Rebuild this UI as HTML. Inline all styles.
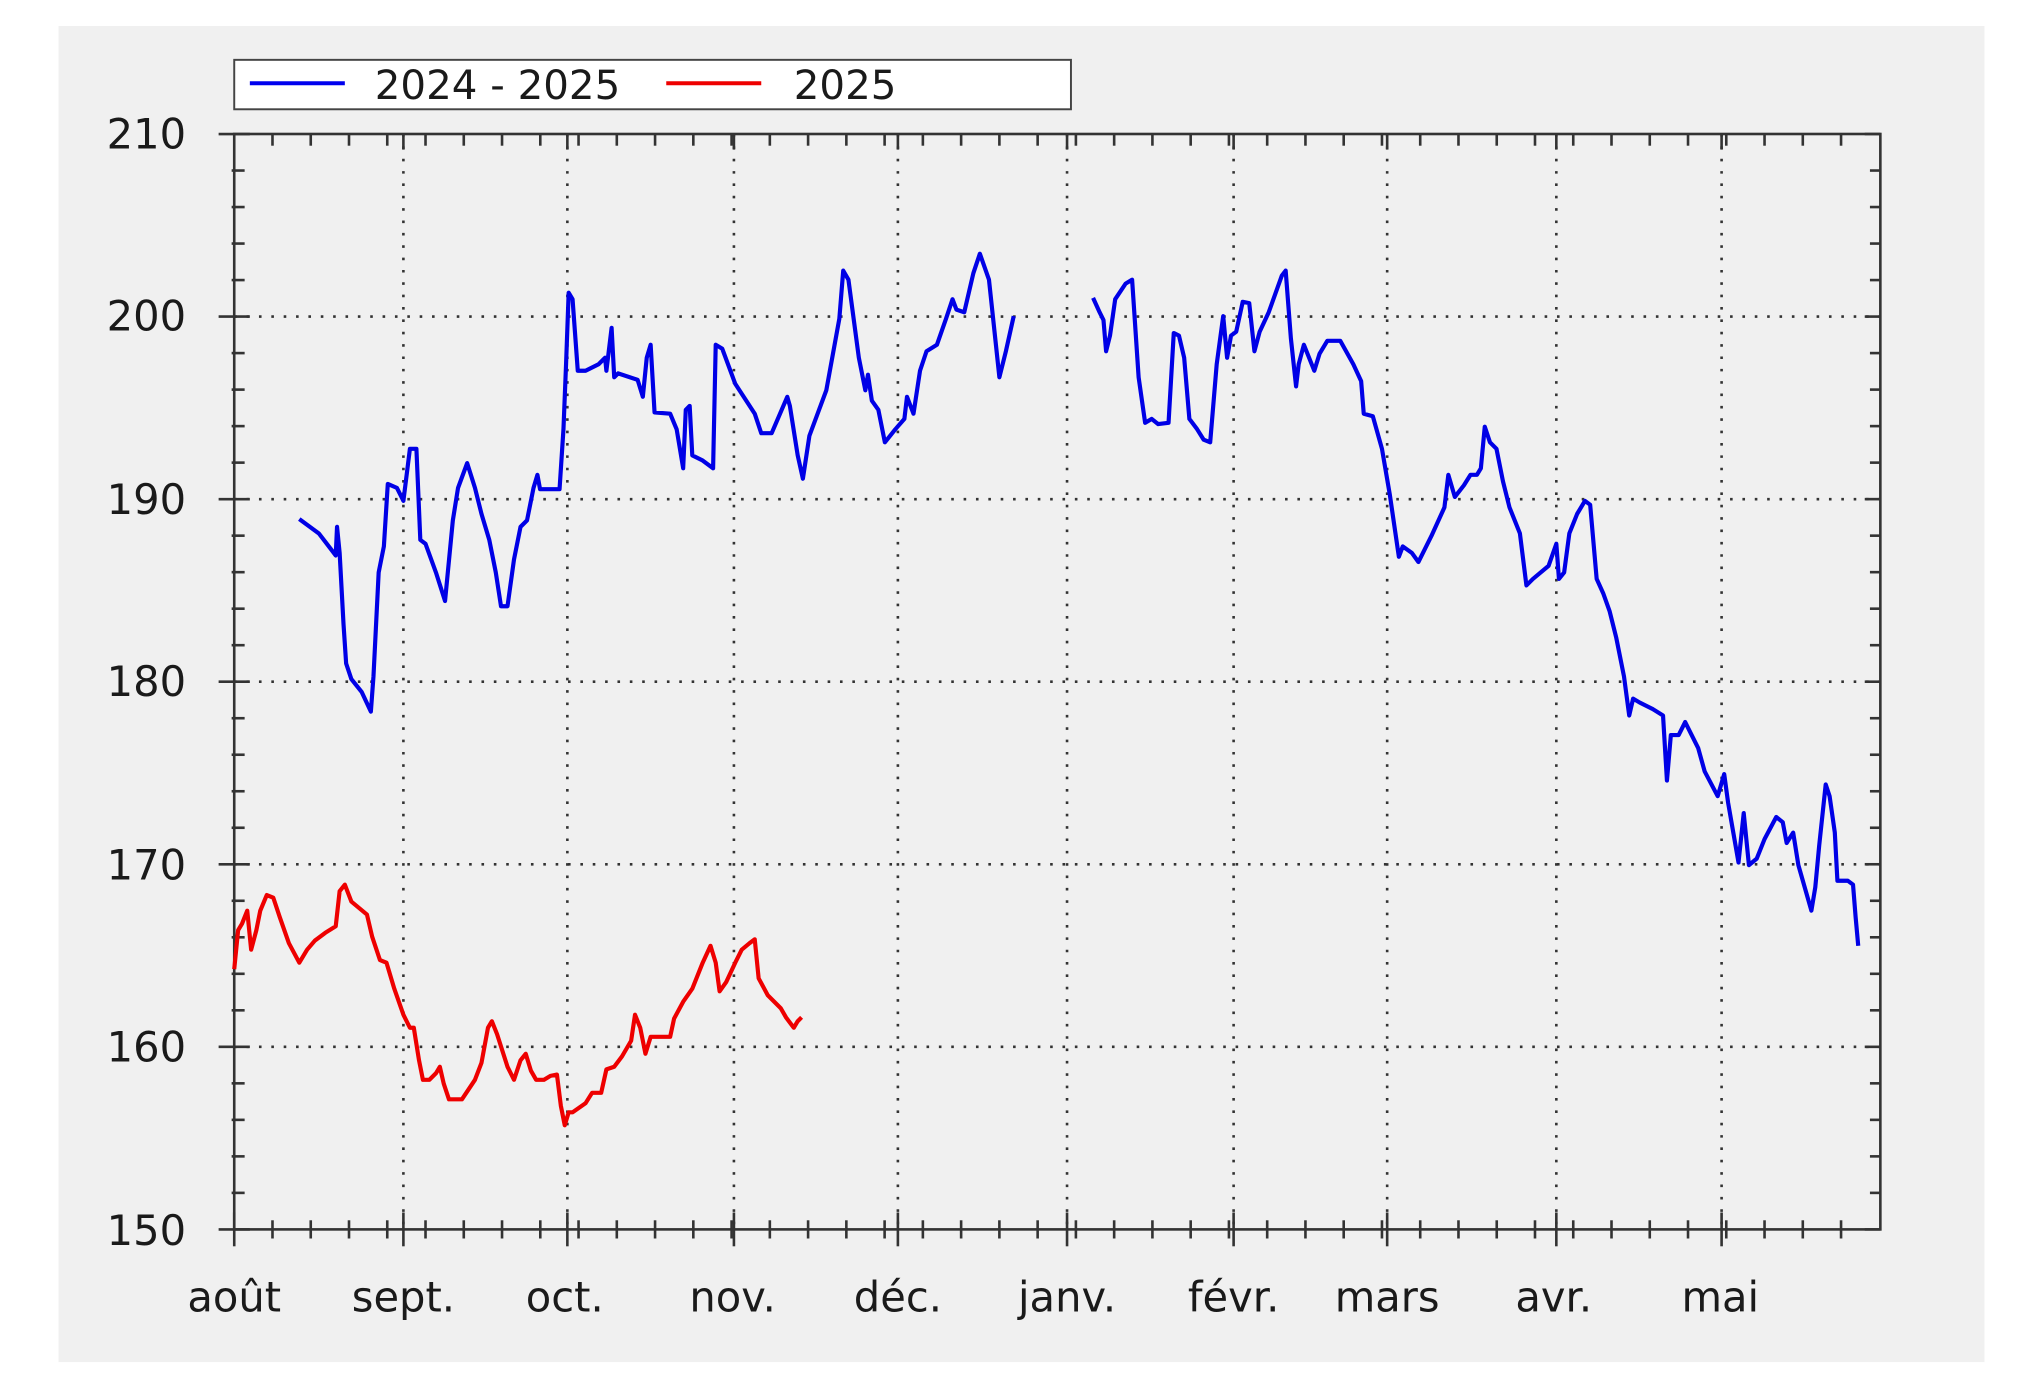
<!DOCTYPE html>
<html><head><meta charset="utf-8"><style>
html,body{margin:0;padding:0;background:#fff;width:2030px;height:1379px;overflow:hidden}
svg{display:block}
text{font-family:"DejaVu Sans","Liberation Sans",sans-serif;fill:#1a1a1a}
</style></head><body>
<svg id="s" width="2030" height="1379" viewBox="0 0 1560 1060" preserveAspectRatio="none" xmlns="http://www.w3.org/2000/svg">
<rect x="0" y="0" width="1560" height="1060" fill="#fff"/>
<rect x="45" y="20" width="1480" height="1027" fill="#f0f0f0"/>
<g id="grid" stroke="#333" stroke-width="2" stroke-dasharray="2 7.5" fill="none"></g>
<g id="ticks" stroke="#333" stroke-width="2" fill="none"></g>
<rect x="180" y="103" width="1265" height="842" fill="none" stroke="#333" stroke-width="2"/>
<g font-size="32" text-anchor="end">
<text x="143" y="114">210</text><text x="143" y="254">200</text><text x="143" y="395">190</text>
<text x="143" y="535">180</text><text x="143" y="676">170</text><text x="143" y="816">160</text><text x="143" y="957">150</text>
</g>
<g font-size="32" text-anchor="middle">
<text x="180" y="1008">août</text><text x="310" y="1008">sept.</text><text x="434" y="1008">oct.</text>
<text x="563" y="1008">nov.</text><text x="690" y="1008">déc.</text><text x="820" y="1008">janv.</text>
<text x="948" y="1008">févr.</text><text x="1066" y="1008">mars</text><text x="1194" y="1008">avr.</text><text x="1322" y="1008">mai</text>
</g>
<rect x="180" y="46" width="643" height="38" fill="#fff" stroke="#444" stroke-width="1.5"/>
<line x1="192" y1="64" x2="265" y2="64" stroke="#0000ee" stroke-width="3"/>
<text x="288" y="76" font-size="31">2024 - 2025</text>
<line x1="512" y1="64" x2="585" y2="64" stroke="#ee0000" stroke-width="3"/>
<text x="610" y="76" font-size="31">2025</text>
<g fill="none" stroke-width="3.2" stroke-linejoin="round">
<polyline stroke="#0000e6" points="230,399 245,410 255,423 258,427 259,405 261,425 264,480 266,510 270,522 278,532 285,547 287,520 291,440 295,420 298,372 305,375 310,385 315,345 320,345 323,415 327,418 335,440 342,462 348,400 352,375 359,356 365,375 370,395 376,415 381,440 385,466 390,466 395,430 400,405 405,400 410,375 413,365 415,376 425,376 430,376 433,330 435,280 437,225 440,230 444,285 450,285 460,280 465,275 466,285 470,252 472,290 475,287 490,292 494,305 497,275 500,265 503,317 515,318 520,330 525,360 527,315 530,312 532,350 540,354 548,360 550,265 555,268 565,295 580,318 585,333 593,333 605,305 607,312 613,350 617,368 622,335 635,300 645,245 648,208 652,215 660,275 665,300 667,288 670,308 675,315 680,340 688,330 695,322 697,305 702,318 707,285 712,270 720,265 727,245 732,230 735,238 741,240 748,210 753,195 760,215 768,290 773,270 779,243"/>
<polyline stroke="#0000e6" points="840,229 845,240 848,246 850,270 853,258 857,230 865,218 870,215 875,290 880,325 885,322 890,326 898,325 902,256 906,258 910,275 914,322 920,330 925,338 930,340 935,280 940,243 943,275 946,258 950,255 955,232 960,233 964,270 968,255 975,240 985,212 988,208 992,260 996,297 998,280 1002,265 1010,285 1014,272 1020,262 1030,262 1040,280 1046,293 1048,318 1055,320 1062,345 1068,380 1075,428 1078,420 1085,425 1090,432 1100,412 1110,390 1113,365 1118,382 1125,373 1130,365 1135,365 1138,360 1141,328 1145,340 1150,345 1155,370 1160,390 1168,410 1173,450 1178,445 1190,435 1196,418 1198,445 1202,440 1206,410 1212,395 1218,385 1222,388 1227,445 1232,456 1237,470 1242,490 1248,520 1252,550 1255,537 1260,540 1270,545 1278,550 1281,600 1284,565 1290,565 1295,555 1300,565 1305,575 1310,593 1320,612 1325,595 1328,617 1332,640 1336,663 1340,625 1344,665 1350,660 1356,645 1365,628 1370,632 1373,648 1378,640 1382,665 1392,700 1395,682 1398,650 1403,603 1406,612 1410,640 1412,677 1420,677 1424,680 1426,705 1428,727"/>
<polyline stroke="#ee0000" points="180,745 183,715 186,710 190,700 193,730 197,715 200,700 205,688 210,690 215,705 222,725 230,740 236,730 242,723 250,717 258,712 261,685 265,680 270,693 282,703 286,720 292,738 297,740 303,760 310,780 315,790 318,790 322,815 325,830 330,830 335,825 338,820 341,833 345,845 355,845 365,830 370,817 375,790 378,785 382,795 390,820 395,830 400,815 404,810 408,823 412,830 418,830 423,827 428,826 431,850 434,865 437,855 440,855 450,848 455,840 462,840 466,822 472,820 478,812 485,800 488,780 492,790 496,810 500,797 507,797 515,797 518,783 525,770 532,760 540,740 546,727 550,740 553,762 558,755 565,740 570,730 576,725 580,722 583,752 590,765 595,770 600,775 604,782 610,790 613,785 616,782"/>
</g>
<script>
(function(){
var NS="http://www.w3.org/2000/svg",g=document.getElementById('grid'),t=document.getElementById('ticks');
function L(p,a,b,c,d){var l=document.createElementNS(NS,'line');l.setAttribute('x1',a);l.setAttribute('y1',b);l.setAttribute('x2',c);l.setAttribute('y2',d);p.appendChild(l);}
var months=[310,436,564,690,820,948,1066,1196,1323];
months.forEach(function(x){L(g,x,103,x,945);L(t,x,932,x,958);L(t,x,103,x,115);});
L(t,180,932,180,958);
[160,170,180,190,200].forEach(function(v){var y=945-(v-150)*14.033;L(g,180,y,1445,y);});
for(var v=150;v<=210;v+=2){var y=945-(v-150)*14.033;
 if(v%10==0){L(t,168,y,192,y);L(t,1433,y,1445,y);}else{L(t,178,y,188,y);L(t,1437,y,1445,y);}}
for(var x=180+29.4;x<1440;x+=29.4){L(t,x,938,x,952);L(t,x,103,x,112);}
})();
</script>
</svg>
</body></html>
